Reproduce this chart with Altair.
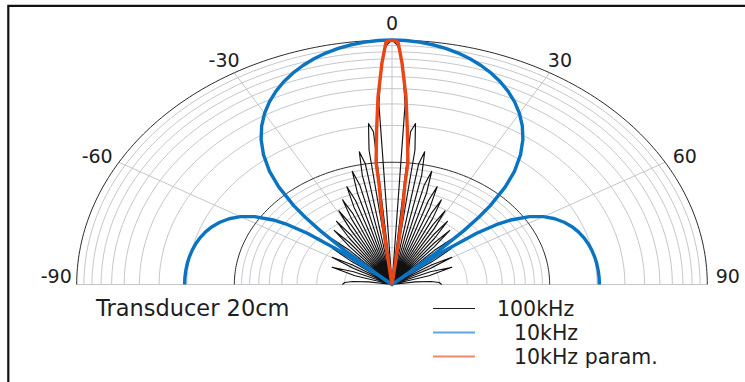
import altair as alt
import numpy as np
import pandas as pd

# ---------------- values ----------------
# Directivity level (dB re. on-axis maximum) against angle (deg).
# Right half only (0..90 deg); every pattern is mirror-symmetric about 0 deg.
ANGLE_100K = [0, 1.07, 2.15, 3.22, 4.30, 5.38, 6.46, 7.54, 8.63, 9.72, 10.81, 11.90, 13.00,
              14.11, 15.22, 16.33, 17.46, 18.59, 19.72, 20.87, 22.02, 23.19, 24.37, 25.55, 26.74,
              27.95, 29.18, 30.42, 31.67, 32.94, 34.23, 35.54, 36.87, 38.23, 39.61, 41.01, 42.45,
              43.93, 45.44, 46.99, 48.59, 50.25, 51.95, 53.73, 55.59, 57.54, 59.60, 61.79, 64.16,
              66.75, 69.64, 73.00, 77.16, 81.9, 84.3, 86.9, 90]
LEVEL_100K = [0, -0.9, -3.9, -10.5, -40, -14.9, -13.5, -17.8, -40, -20.0, -17.9, -21.7, -40,
              -23.2, -20.8, -24.4, -40, -25.5, -23.0, -26.5, -40, -27.4, -24.8, -28.1, -40,
              -28.9, -26.2, -29.5, -40, -30.2, -27.5, -30.7, -40, -31.3, -28.5, -31.8, -40,
              -32.3, -29.5, -32.7, -40, -33.2, -30.4, -33.6, -40, -34.0, -31.2, -34.4, -40,
              -34.7, -31.9, -35.1, -40, -37.0, -35.0, -34.0, -33.7]

ANGLE_10K = [0, 2.5, 5, 7.5, 10, 12.5, 15, 17.5, 20, 22.5, 25, 27.5, 30, 32.5, 35, 37.5, 40,
             42, 44, 45, 46, 47, 47.8, 48.6, 49.5, 50.5, 52, 53.5, 55, 57.5, 60, 62.5, 65,
             67.5, 70, 72.5, 75, 77.5, 80, 82.5, 85, 87.5, 90]
LEVEL_10K = [0, -0.05, -0.19, -0.44, -0.78, -1.22, -1.77, -2.43, -3.21, -4.10, -5.14, -6.32,
             -7.67, -9.23, -11.05, -13.21, -15.83, -18.52, -22.05, -24.39, -27.43, -31.88,
             -38.13, -40, -37.28, -31.06, -26.37, -23.55, -21.59, -19.34, -17.80, -16.71,
             -15.90, -15.29, -14.83, -14.49, -14.23, -14.04, -13.90, -13.80, -13.74, -13.70,
             -13.69]

ANGLE_PARAM = [0, 1.1, 2.0, 3.3, 4.4, 5.8, 5.7, 6.5, 7.0, 8.0]
LEVEL_PARAM = [0, -0.3, -3.7, -9.2, -14.6, -20.0, -23.4, -28.8, -34.3, -40]

SERIES = ["100kHz", "10kHz", "10kHz param."]
LEGEND_LABELS = ["100kHz", "10kHz", "10kHz param."]
NOTE = "Transducer 20cm"

ANGLE_TICKS = [-90, -60, -30, 0, 30, 60, 90]
ANGLE_TICK_LABELS = ["-90", "-60", "-30", "0", "30", "60", "90"]
SPOKE_ANGLES = [-60, -30, 0, 30, 60]
MINOR_RINGS = [0.02, 0.03, 0.04, 0.05, 0.06, 0.07, 0.08, 0.09,
               0.2, 0.3, 0.4, 0.5, 0.6, 0.7, 0.8, 0.9]   # amplitude ratios (log radial axis)
MAJOR_RINGS = [0.1, 1.0]
FLOOR_DB = -40

assert len(ANGLE_100K) == len(LEVEL_100K)
assert len(ANGLE_10K) == len(LEVEL_10K)
assert len(ANGLE_PARAM) == len(LEVEL_PARAM)

# ---------------- styles / layout ----------------
W, H = 745, 382
CX, CY = 392.0, 284.5      # pole position in pixels
RX, RY = 315.3, 244.5      # outer ring radii in pixels (figure is stretched horizontally)
FONT = "DejaVu Sans"
TXT = "#1e1e1e"
GRID = "#c4c6cd"
RING = "#2b2b2b"
COLORS = {"100kHz": "#111111", "10kHz": "#0a74c2", "10kHz param.": "#ea4517"}
WIDTHS = {"100kHz": 1.15, "10kHz": 3.4, "10kHz param.": 3.4}
LEGEND_COLORS = ["#1c1c1c", "#5ea5e4", "#f0886a"]
LEGEND_WIDTHS = [1.2, 2.0, 2.0]
LEGEND_Y = [308.5, 332.5, 356.5]
LEGEND_X = [497, 514, 514]
LABEL_R = 1.065
LABEL_NUDGE = {-90: (0, -8), -60: (-4, 2.5), -30: (0, 2.5), 0: (0, 0),
               30: (0, 2.5), 60: (2, 2.5), 90: (0, -8)}

XS = alt.Scale(domain=[-CX / RX, (W - CX) / RX], nice=False, zero=False)
YS = alt.Scale(domain=[-(H - CY) / RY, CY / RY], nice=False, zero=False)
X = alt.X("px:Q", scale=XS, axis=None)
Y = alt.Y("py:Q", scale=YS, axis=None)


def mirrored(name, ang, lev):
    a = [-v for v in ang[:0:-1]] + list(ang)
    l = list(lev[:0:-1]) + list(lev)
    return pd.DataFrame({"series": name, "angle": a, "level": l, "i": range(len(a))})


def polar(ch):
    return ch.transform_calculate(
        r=f"(max(datum.level, {FLOOR_DB}) - ({FLOOR_DB})) / {-FLOOR_DB}"
    ).transform_calculate(
        px="datum.r * sin(datum.angle * PI / 180)",
        py="datum.r * cos(datum.angle * PI / 180)",
    )


# grid rings
sweep = np.arange(-90, 90.5, 1.0)
minor_rows, major_rows = [], []
for target, levels in ((minor_rows, MINOR_RINGS), (major_rows, MAJOR_RINGS)):
    for a in levels:
        for k, th in enumerate(sweep):
            target.append({"ring": str(a), "angle": float(th), "level": 20 * np.log10(a), "i": k})
minor_df = pd.DataFrame(minor_rows)
major_df = pd.DataFrame(major_rows)

spoke_rows = []
for s in SPOKE_ANGLES:
    spoke_rows.append({"spoke": str(s), "angle": s, "level": FLOOR_DB, "i": 0})
    spoke_rows.append({"spoke": str(s), "angle": s, "level": 0, "i": 1})
spoke_rows.append({"spoke": "base", "angle": -90, "level": 0, "i": 0})
spoke_rows.append({"spoke": "base", "angle": 90, "level": 0, "i": 1})
spoke_df = pd.DataFrame(spoke_rows)

minor = polar(alt.Chart(minor_df)).mark_line(color=GRID, strokeWidth=1).encode(
    x=X, y=Y, detail="ring:N", order="i:Q")
spokes = polar(alt.Chart(spoke_df)).mark_line(color=GRID, strokeWidth=1).encode(
    x=X, y=Y, detail="spoke:N", order="i:Q")
major = polar(alt.Chart(major_df)).mark_line(color=RING, strokeWidth=1).encode(
    x=X, y=Y, detail="ring:N", order="i:Q")

curves = []
for name, ang, lev in ((SERIES[0], ANGLE_100K, LEVEL_100K),
                       (SERIES[1], ANGLE_10K, LEVEL_10K),
                       (SERIES[2], ANGLE_PARAM, LEVEL_PARAM)):
    df = mirrored(name, ang, lev)
    curves.append(
        polar(alt.Chart(df)).mark_line(color=COLORS[name], strokeWidth=WIDTHS[name],
                                       strokeJoin="round")
        .encode(x=X, y=Y, order="i:Q")
    )

# angle labels
lab_df = pd.DataFrame({"angle": ANGLE_TICKS, "label": ANGLE_TICK_LABELS})
lab_df["nx"] = [LABEL_NUDGE[a][0] / RX for a in ANGLE_TICKS]
lab_df["ny"] = [-LABEL_NUDGE[a][1] / RY for a in ANGLE_TICKS]
labels = alt.Chart(lab_df).transform_calculate(
    px=f"{LABEL_R} * sin(datum.angle * PI / 180) + datum.nx",
    py=f"{LABEL_R} * cos(datum.angle * PI / 180) + datum.ny",
).mark_text(font=FONT, fontSize=19, color=TXT, align="center", baseline="middle").encode(
    x=X, y=Y, text="label:N")

one = pd.DataFrame({"k": [0]})

# frame
frame = alt.Chart(one).mark_rect(
    fillOpacity=0, stroke="#111111", strokeWidth=2.2).encode(
    x=alt.value(8.3), y=alt.value(5.8), x2=alt.value(800), y2=alt.value(450))

# note and legend
deco = [frame]
deco.append(alt.Chart(one).mark_text(
    text=NOTE, font=FONT, fontSize=22.5, color=TXT, align="left", baseline="alphabetic").encode(
    x=alt.value(96), y=alt.value(316)))
for lab, col, lw, ly, lx in zip(LEGEND_LABELS, LEGEND_COLORS, LEGEND_WIDTHS, LEGEND_Y, LEGEND_X):
    deco.append(alt.Chart(one).mark_rule(color=col, strokeWidth=lw).encode(
        x=alt.value(433), x2=alt.value(475), y=alt.value(ly)))
    deco.append(alt.Chart(one).mark_text(
        text=lab, font=FONT, fontSize=20.5, color=TXT, align="left", baseline="alphabetic").encode(
        x=alt.value(lx), y=alt.value(ly + 7.5)))

chart = alt.layer(minor, spokes, major, *curves, labels, *deco).properties(
    width=W, height=H, padding=0, background="white",
    autosize=alt.AutoSizeParams(type="none"),
).configure_view(stroke=None)

chart.save("out.html", embed_options={"renderer": "svg", "actions": False})
